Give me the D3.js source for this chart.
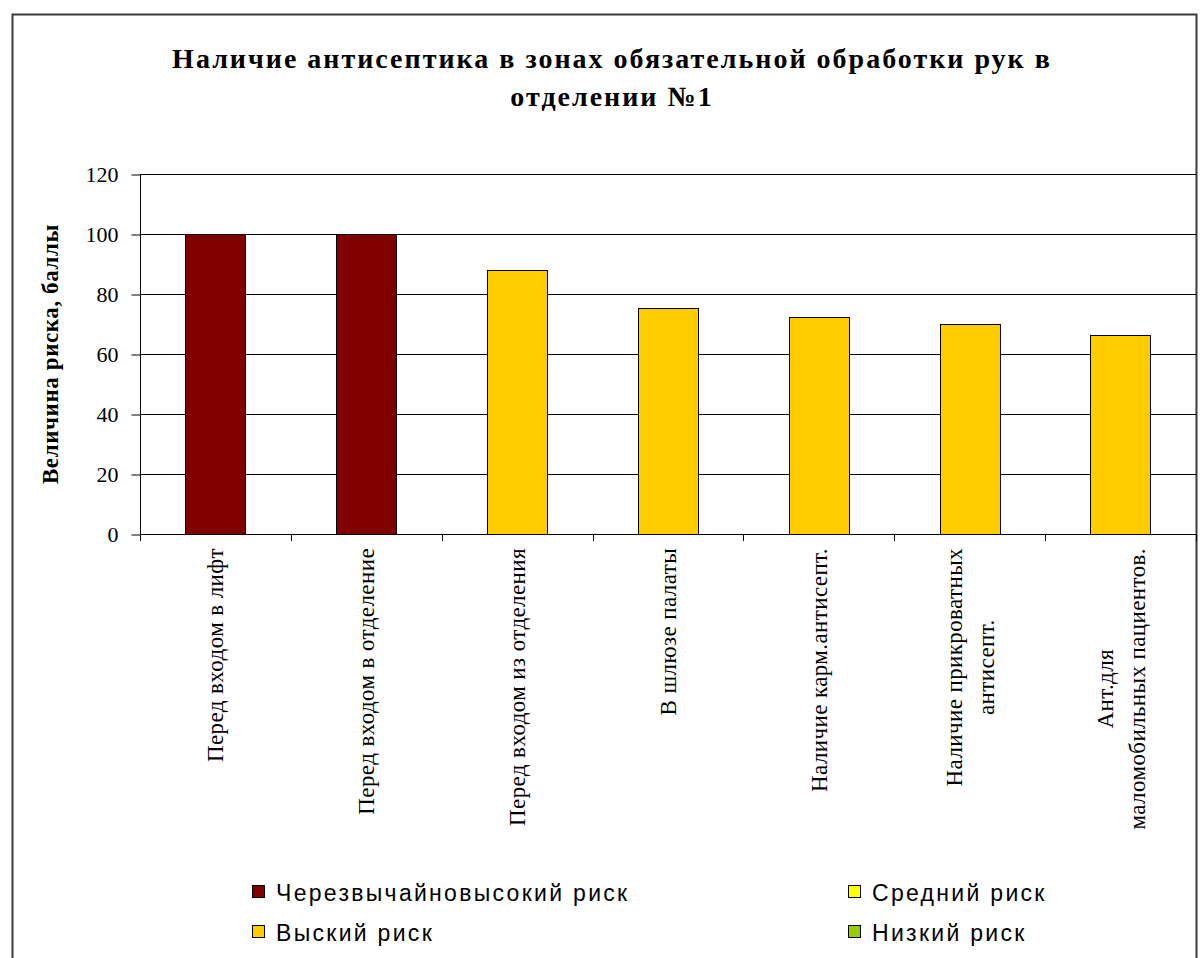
<!DOCTYPE html>
<html lang="ru">
<head>
<meta charset="utf-8">
<title>Наличие антисептика в зонах обязательной обработки рук в отделении №1</title>
<script src="https://cdn.jsdelivr.net/npm/d3@7"></script>
<style>
  html, body { margin: 0; padding: 0; background: #fff; }
  svg { display: block; }
  .serif { font-family: "Liberation Serif", "Times New Roman", serif; }
  .sans { font-family: "Liberation Sans", Arial, sans-serif; }
</style>
</head>
<body>
<svg id="chart" width="1201" height="958"></svg>
<script>
// Category labels (each entry holds the lines of one axis label)
const categories = [
  ["Перед входом в лифт"],
  ["Перед входом в отделение"],
  ["Перед входом из отделения"],
  ["В шлюзе палаты"],
  ["Наличие карм.антисепт."],
  ["Наличие прикроватных", "антисепт."],
  ["Ант.для", "маломобильных пациентов."]
];
// Risk score for each zone, points
const values = [100, 100, 88, 75.3, 72.2, 70, 66.5];
// Risk level of each zone (index into riskLevels)
const barRisk = [0, 0, 1, 1, 1, 1, 1];
const riskLevels = ["Черезвычайновысокий риск", "Выский риск", "Средний риск", "Низкий риск"];
const yTicks = [0, 20, 40, 60, 80, 100, 120];
const titleLines = ["Наличие антисептика в зонах обязательной обработки рук в", "отделении №1"];
const yTitle = "Величина риска, баллы";

const riskColors = ["#800000", "#FFCC00", "#FFFF00", "#99CC00"];

const svg = d3.select("#chart");

// outer chart frame
svg.append("rect")
  .attr("x", 12.5).attr("y", 14.5)
  .attr("width", 1184).attr("height", 980)
  .attr("fill", "#fff")
  .attr("stroke", "#3a3a3a").attr("stroke-width", 2);

// plot area
const plot = { left: 140, right: 1196, top: 174, bottom: 534 };

const x = d3.scaleBand()
  .domain(d3.range(categories.length))
  .range([plot.left, plot.right])
  .paddingInner(0.6)
  .paddingOuter(0.3);

const y = d3.scaleLinear()
  .domain([0, 120])
  .range([plot.bottom, plot.top]);

// horizontal gridlines
svg.append("g")
  .selectAll("line")
  .data(yTicks.filter(t => t > 0))
  .join("line")
  .attr("x1", plot.left).attr("x2", plot.right)
  .attr("y1", d => Math.round(y(d)) + 0.5).attr("y2", d => Math.round(y(d)) + 0.5)
  .attr("stroke", "#000").attr("stroke-width", 1);

// bars
svg.append("g")
  .selectAll("rect")
  .data(values)
  .join("rect")
  .attr("x", (d, i) => Math.round(x(i)) + 0.5)
  .attr("width", Math.round(x.bandwidth()))
  .attr("y", d => Math.round(y(d)) + 0.5)
  .attr("height", d => Math.round(y(0)) - Math.round(y(d)))
  .attr("fill", (d, i) => riskColors[barRisk[i]])
  .attr("stroke", "#000").attr("stroke-width", 1);

// y axis
const yAxis = svg.append("g")
  .attr("transform", `translate(${plot.left + 0.5},0.5)`)
  .call(d3.axisLeft(y).tickValues(yTicks).tickSize(9).tickPadding(13).tickFormat(d3.format("d")));
yAxis.select(".domain").attr("d", `M0,${plot.top}V${plot.bottom + 6}`).attr("stroke", "#000");
yAxis.selectAll(".tick line").attr("stroke", "#000");
yAxis.selectAll(".tick text")
  .attr("class", "serif")
  .attr("font-size", 22)
  .attr("fill", "#000");

// x axis: baseline and tick marks at category boundaries
const xAxis = svg.append("g");
xAxis.append("line")
  .attr("x1", plot.left).attr("x2", plot.right)
  .attr("y1", plot.bottom + 0.5).attr("y2", plot.bottom + 0.5)
  .attr("stroke", "#000");
const step = x.step();
xAxis.selectAll("line.tick")
  .data(d3.range(categories.length + 1))
  .join("line")
  .attr("class", "tick")
  .attr("x1", i => Math.round(plot.left + i * step) + 0.5)
  .attr("x2", i => Math.round(plot.left + i * step) + 0.5)
  .attr("y1", plot.bottom).attr("y2", plot.bottom + 7)
  .attr("stroke", "#000");

// rotated category labels, block top anchored just under the axis
const lineGap = 32;
const labelTop = 548;
const labelGroups = svg.append("g")
  .selectAll("g")
  .data(categories)
  .join("g")
  .attr("transform", (d, i) => `translate(${x(i) + x.bandwidth() / 2},${labelTop}) rotate(-90)`);
labelGroups.each(function (lines) {
  const g = d3.select(this);
  const n = lines.length;
  lines.forEach((line, j) => {
    g.append("text")
      .attr("class", "serif")
      .attr("font-size", 23)
      .attr("letter-spacing", 0.4)
      .attr("text-anchor", "middle")
      .attr("y", (j - (n - 1) / 2) * lineGap)
      .attr("dy", "0.35em")
      .text(line);
  });
  // center every line on the longest one, block ending at the axis side
  const widths = g.selectAll("text").nodes().map(nd => nd.getComputedTextLength());
  const maxW = d3.max(widths);
  g.selectAll("text").attr("x", -maxW / 2);
});

// y axis title
svg.append("text")
  .attr("class", "serif")
  .attr("font-size", 23)
  .attr("font-weight", "bold")
  .attr("letter-spacing", 0.6)
  .attr("text-anchor", "middle")
  .attr("transform", `translate(58,${(plot.top + plot.bottom) / 2}) rotate(-90)`)
  .text(yTitle);

// chart title
svg.append("g")
  .selectAll("text")
  .data(titleLines)
  .join("text")
  .attr("class", "serif")
  .attr("font-size", 28)
  .attr("font-weight", "bold")
  .attr("letter-spacing", 2.0)
  .attr("text-anchor", "middle")
  .attr("x", 612)
  .attr("y", (d, i) => 68 + i * 38)
  .text(d => d);

// legend: two columns, two rows
const legendPos = [
  { x: 252, y: 901 },
  { x: 252, y: 941 },
  { x: 848, y: 901 },
  { x: 848, y: 941 }
];
const legend = svg.append("g")
  .selectAll("g")
  .data(riskLevels)
  .join("g")
  .attr("transform", (d, i) => `translate(${legendPos[i].x},${legendPos[i].y})`);
legend.append("rect")
  .attr("x", 0.5).attr("y", -15.5)
  .attr("width", 12).attr("height", 12)
  .attr("fill", (d, i) => riskColors[i])
  .attr("stroke", "#000").attr("stroke-width", 1);
legend.append("text")
  .attr("class", "sans")
  .attr("font-size", 23)
  .attr("letter-spacing", 2.3)
  .attr("x", 24)
  .attr("y", 0)
  .text(d => d);
</script>
</body>
</html>
